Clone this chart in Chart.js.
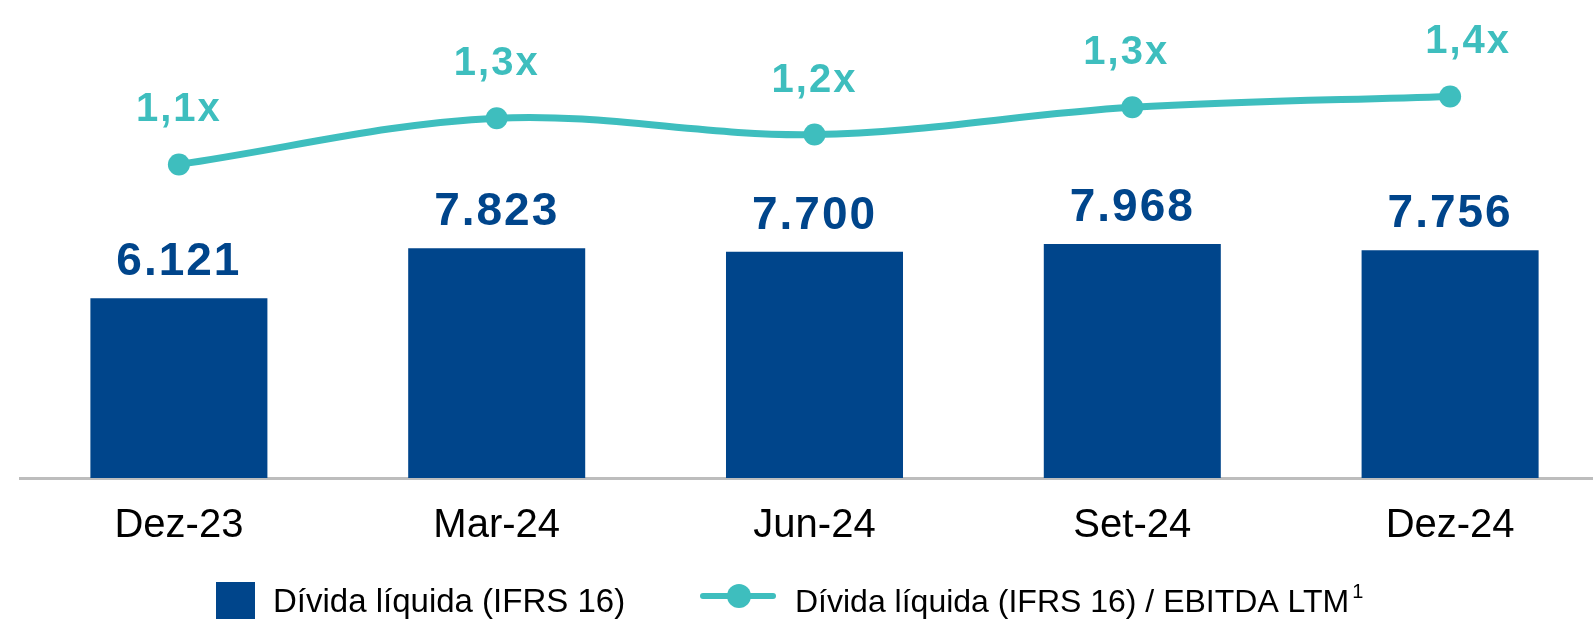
<!DOCTYPE html>
<html>
<head>
<meta charset="utf-8">
<script src="https://cdn.jsdelivr.net/npm/chart.js@4/dist/chart.umd.min.js"></script>
<style>
  html, body { margin: 0; padding: 0; background: #fff; overflow: hidden; }
  #wrap { width: 1620px; height: 619px; }
</style>
</head>
<body>
<div id="wrap"><canvas id="debt-chart" width="1620" height="619"></canvas></div>
<script>
// data
const periods = ['Dez-23', 'Mar-24', 'Jun-24', 'Set-24', 'Dez-24'];
const netDebt = [6121, 7823, 7700, 7968, 7756];
const leverage = [1.12, 1.29, 1.23, 1.33, 1.37];
const barLabel = 'Dívida líquida (IFRS 16)';
const lineLabel = 'Dívida líquida (IFRS 16) / EBITDA LTM';

const navy = '#00458B';
const teal = '#3EBEBE';
const fontName = '"Liberation Sans", Arial, sans-serif';

function fmtDebt(v) {
    return v.toLocaleString('de-DE');
}
function fmtLev(v) {
    return v.toFixed(1).replace('.', ',') + 'x';
}

// small horizontal nudges for the ratio labels (as in the source slide)
const lineLabelDx = [0, 0, 0, -6, 18];

// value labels above the bars and points
const valueLabels = {
    id: 'valueLabels',
    afterDatasetsDraw(chart) {
        const ctx = chart.ctx;
        ctx.save();
        ctx.textAlign = 'center';
        ctx.textBaseline = 'alphabetic';
        if ('letterSpacing' in ctx) ctx.letterSpacing = '2px';

        chart.getDatasetMeta(1).data.forEach((bar, i) => {
            ctx.fillStyle = navy;
            ctx.font = 'bold 46px ' + fontName;
            ctx.fillText(fmtDebt(netDebt[i]), bar.x, bar.y - 23);
        });
        chart.getDatasetMeta(0).data.forEach((pt, i) => {
            ctx.fillStyle = teal;
            ctx.font = 'bold 40px ' + fontName;
            ctx.fillText(fmtLev(leverage[i]), pt.x + lineLabelDx[i], pt.y - 43);
        });
        ctx.restore();
    }
};

// legend drawn under the axis
const bottomLegend = {
    id: 'bottomLegend',
    afterDraw(chart) {
        const ctx = chart.ctx;
        ctx.save();
        ctx.textBaseline = 'alphabetic';
        ctx.textAlign = 'left';

        // bar key
        ctx.fillStyle = navy;
        ctx.fillRect(216, 582, 39, 40);
        ctx.fillStyle = '#000';
        ctx.font = '33px ' + fontName;
        ctx.fillText(barLabel, 273, 612);

        // line key
        ctx.strokeStyle = teal;
        ctx.lineWidth = 6;
        ctx.lineCap = 'round';
        ctx.beginPath();
        ctx.moveTo(703, 596);
        ctx.lineTo(773, 596);
        ctx.stroke();
        ctx.fillStyle = teal;
        ctx.beginPath();
        ctx.arc(739, 596, 12, 0, Math.PI * 2);
        ctx.fill();
        ctx.fillStyle = '#000';
        ctx.font = '32px ' + fontName;
        ctx.fillText(lineLabel, 795, 612);
        const w = ctx.measureText(lineLabel).width;
        ctx.font = '20px ' + fontName;
        ctx.fillText('1', 795 + w + 3, 598);
        ctx.restore();
    }
};

const ctx = document.getElementById('debt-chart').getContext('2d');
new Chart(ctx, {
    data: {
        labels: periods,
        datasets: [{
            type: 'line',
            label: lineLabel,
            data: leverage,
            yAxisID: 'y1',
            borderColor: teal,
            backgroundColor: teal,
            borderWidth: 7,
            pointRadius: 11,
            pointBackgroundColor: teal,
            pointBorderWidth: 0,
            tension: 0.35,
            order: 0
        }, {
            type: 'bar',
            label: barLabel,
            data: netDebt,
            yAxisID: 'y',
            backgroundColor: navy,
            categoryPercentage: 1,
            barPercentage: 0.557,
            order: 1
        }]
    },
    options: {
        responsive: false,
        animation: false,
        layout: { padding: { left: 20, right: 1, top: 0, bottom: 0 } },
        plugins: {
            legend: { display: false },
            tooltip: { enabled: false }
        },
        scales: {
            x: {
                grid: { display: false, drawTicks: false },
                border: { display: true, color: '#BDBDBD', width: 3 },
                ticks: {
                    color: '#000',
                    font: { family: fontName, size: 40 },
                    padding: 24
                },
                afterFit(scale) { scale.height = 141; }
            },
            y: {
                display: false,
                min: 0,
                max: 15900
            },
            y1: {
                display: false,
                position: 'right',
                min: -0.032,
                max: 1.684
            }
        }
    },
    plugins: [valueLabels, bottomLegend]
});
</script>
</body>
</html>
